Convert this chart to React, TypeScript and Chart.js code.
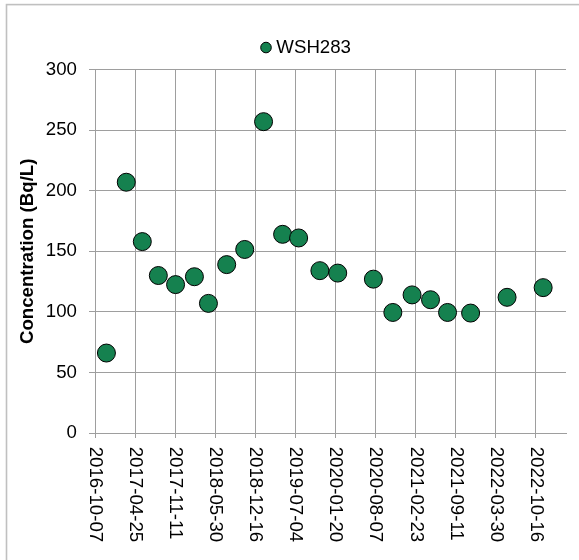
import React, { useEffect, useRef } from 'react';
import { Chart, registerables } from 'chart.js';

Chart.register(...registerables);

const FONT = '"Liberation Sans", Arial, sans-serif';
const FS = 18.67;

const seriesLabel = 'WSH283';
const sampleDates = [
  '2016-12-03', '2017-03-12', '2017-05-31', '2017-08-19', '2017-11-13', '2018-02-15',
  '2018-04-26', '2018-07-26', '2018-10-24', '2019-01-26', '2019-05-01', '2019-07-20',
  '2019-11-03', '2020-01-31', '2020-07-27', '2020-11-01', '2021-02-05', '2021-05-08',
  '2021-08-01', '2021-11-24', '2022-05-25', '2022-11-21',
];
const concentrations = [
  66, 207, 158, 130, 122.5, 129,
  107, 139, 151.5, 257, 164, 161,
  134, 132, 127, 99.5, 114, 110,
  99.5, 99, 112, 120,
];
const tickDates = [
  '2016-10-07', '2017-04-25', '2017-11-11', '2018-05-30', '2018-12-16', '2019-07-04',
  '2020-01-20', '2020-08-07', '2021-02-23', '2021-09-11', '2022-03-30', '2022-10-16',
];
const xMaxDate = '2023-03-15';
const yTicks = [0, 50, 100, 150, 200, 250, 300];

const toDay = (s: string) => {
  const [y, m, d] = s.split('-').map(Number);
  return Date.UTC(y, m - 1, d) / 864e5;
};

const GRID = '#9e9e9e';

const framePlugin = {
  id: 'frame',
  beforeDraw(chart: any) {
    const ctx = chart.ctx;
    ctx.save();
    ctx.fillStyle = '#fff';
    ctx.fillRect(0, 0, chart.width, chart.height);
    ctx.strokeStyle = '#c0c0c0';
    ctx.lineWidth = 1.6;
    ctx.strokeRect(6.5, 4.6, 1000, 1000);
    ctx.restore();
  },
};

const xLabelPlugin = {
  id: 'xLabels',
  afterDraw(chart: any) {
    const s = chart.scales.x;
    const ctx = chart.ctx;
    ctx.save();
    ctx.font = `${FS}px ${FONT}`;
    ctx.fillStyle = '#000';
    ctx.textAlign = 'left';
    ctx.textBaseline = 'middle';
    tickDates.forEach((d) => {
      const px = s.getPixelForValue(toDay(d));
      ctx.save();
      ctx.translate(px, s.top + 13.7);
      ctx.rotate(Math.PI / 2);
      ctx.fillText(d, 0, 0);
      ctx.restore();
    });
    ctx.restore();
  },
};

export default function App() {
  const ref = useRef<HTMLCanvasElement>(null);
  useEffect(() => {
    document.body.style.margin = '0';
    const chart = new Chart(ref.current!, {
      type: 'scatter',
      data: {
        datasets: [
          {
            label: seriesLabel,
            data: sampleDates.map((d, i) => ({ x: toDay(d), y: concentrations[i] })),
            backgroundColor: '#15814f',
            borderColor: '#000',
            borderWidth: 1,
            pointRadius: 9,
            pointHoverRadius: 9,
            pointStyle: 'circle',
          },
        ],
      },
      options: {
        animation: false,
        responsive: false,
        devicePixelRatio: 1,
        layout: { padding: { top: 28.2, left: 0, right: 0, bottom: 0 } },
        plugins: {
          legend: {
            display: true,
            position: 'top',
            labels: {
              usePointStyle: true,
              pointStyle: 'circle',
              boxWidth: 2,
              boxHeight: 7.5,
              padding: 10,
              color: '#000',
              font: { size: FS, family: FONT },
            },
          },
          title: {
            display: true,
            text: '',
            weight: 500,
            position: 'top',
            font: { size: 2.7, lineHeight: 1 },
            padding: 0,
          } as any,
          tooltip: { enabled: false },
        },
        scales: {
          x: {
            type: 'linear',
            min: toDay(tickDates[0]),
            max: toDay(xMaxDate),
            ticks: { display: false },
            afterBuildTicks: (s: any) => {
              s.ticks = tickDates.map((d) => ({ value: toDay(d) }));
            },
            afterFit: (s: any) => {
              s.height = 127;
            },
            grid: { color: GRID, lineWidth: 1, tickLength: 5 },
            border: { color: GRID },
          },
          y: {
            type: 'linear',
            min: 0,
            max: 300,
            afterBuildTicks: (s: any) => {
              s.ticks = yTicks.map((v) => ({ value: v }));
            },
            afterFit: (s: any) => {
              s.width = 95;
            },
            ticks: { padding: 12, color: '#000', font: { size: FS, family: FONT } },
            grid: { color: GRID, lineWidth: 1, tickLength: 6 },
            border: { color: GRID },
            title: {
              display: true,
              text: 'Concentration (Bq/L)',
              color: '#000',
              font: { size: FS, family: FONT, weight: 'bold' },
              padding: { top: 16.3, bottom: 0 },
            },
          },
          yPad: {
            type: 'linear',
            position: 'right',
            display: true,
            grid: { display: false, drawTicks: false },
            border: { display: false },
            ticks: { display: false },
            afterFit: (s: any) => {
              s.width = 50;
            },
          },
        },
      } as any,
      plugins: [framePlugin, xLabelPlugin],
    });
    return () => chart.destroy();
  }, []);
  return (
    <div style={{ width: 579, height: 560, overflow: 'hidden', position: 'relative', background: '#fff' }}>
      <canvas ref={ref} width={616} height={560} style={{ display: 'block' }} />
    </div>
  );
}
